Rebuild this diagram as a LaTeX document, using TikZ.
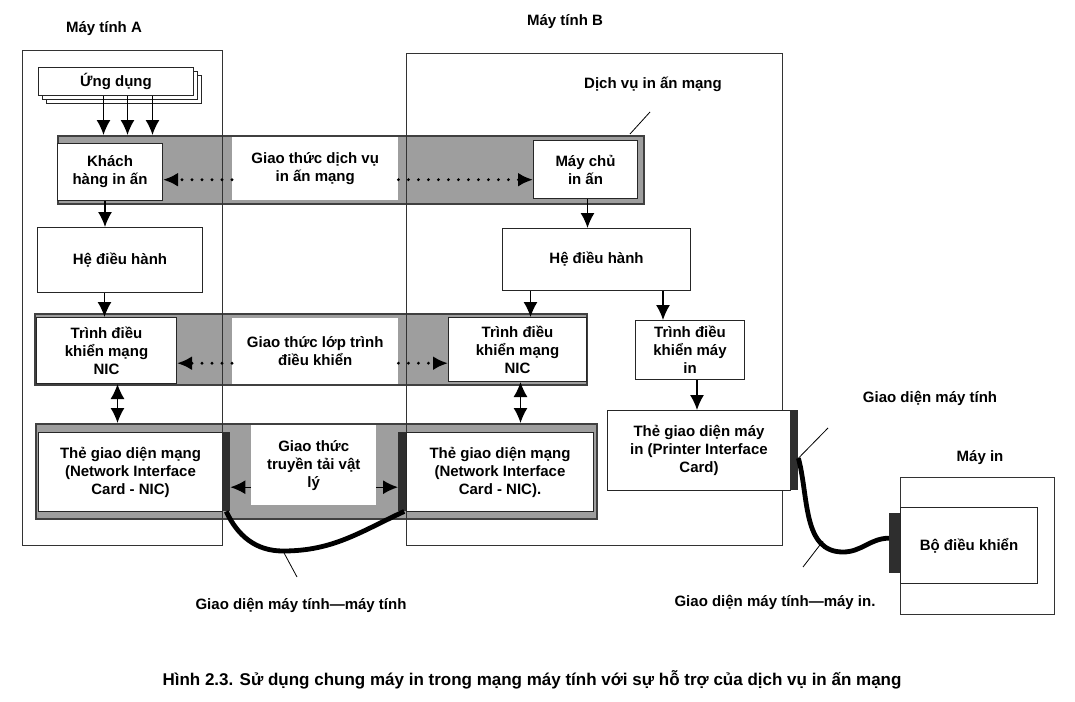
\documentclass[tikz,border=0pt]{standalone}
\usepackage{fontspec}
\setmainfont{Liberation Sans}
\usetikzlibrary{positioning,arrows.meta}
\tikzset{
	every node/.style = {font=\bfseries\fontsize{15}{18}\selectfont, inner sep=2},
	every text node part/.style={align=center},
	>={Latex[length=15pt,width=14pt]},
	blk/.style={draw=black!85, line width=1pt, fill=white, anchor=north west},
	band/.style={draw=black!75, line width=1.8pt, fill=black!38, anchor=north west},
	lbl/.style={fill=white, anchor=north west},
	bar/.style={fill=black!82, anchor=north west, inner sep=0},
	frame/.style={draw=black!80, line width=1pt, anchor=north west},
	arr/.style={->, line width=1.4pt},
	dbl/.style={<->, line width=1.4pt},
	dots/.style={->, line width=3.2pt, dash pattern=on 0pt off 10pt, line cap=round},
	cable/.style={line width=4.8pt},
	lead/.style={line width=0.8pt}
}

\begin{document}
\begin{tikzpicture}[x=1pt, y=-1pt]
	\useasboundingbox (0,0) rectangle (1075,701);
	% gray protocol bands
	\node(bandSvc)[band, minimum width=586, minimum height=68] at (57,135) {};
	\node(bandDrv)[band, minimum width=552, minimum height=71] at (34,313) {};
	\node(bandPhy)[band, minimum width=561, minimum height=95] at (35,423) {};
	% computers
	\node(compA)[frame, minimum width=200, minimum height=495] at (22,50) {};
	\node(compB)[frame, minimum width=376, minimum height=492] at (406,53) {};
	\node(labA) at (104,29) {Máy tính A};
	\node(labB) at (565,22) {Máy tính B};
	\node(labSvc) at (653,84) {Dịch vụ in ấn mạng};
	
	% computer A
	\node(app3)[blk, minimum width=155, minimum height=28] at (46,75) {};
	\node(app2)[blk, minimum width=155, minimum height=28] at (42,71) {};
	\node(app)[blk, minimum width=155, minimum height=28] at (38,67) {Ứng dụng};
	\node(client)[blk, minimum width=105, minimum height=57] at (57,143) {Khách\\hàng in ấn};
	\node(osA)[blk, minimum width=165, minimum height=65] at (37,227) {Hệ điều hành};
	\node(nicdrvA)[blk, minimum width=140, minimum height=66] at (36,317) {Trình điều\\khiển mạng\\NIC};
	\node(nicA)[blk, minimum width=184, minimum height=79] at (38,432) {Thẻ giao diện mạng\\(Network Interface\\Card - NIC)};
	\node(barA)[bar, minimum width=8, minimum height=79] at (222,432) {};
	
	% protocols
	\node(svcproto)[lbl, minimum width=166, minimum height=63] at (232,137) {Giao thức dịch vụ\\in ấn mạng};
	\node(drvproto)[lbl, minimum width=166, minimum height=66] at (232,318) {Giao thức lớp trình\\điều khiển};
	\node(phyproto)[lbl, minimum width=125, minimum height=80] at (251,425) {Giao thức\\truyền tải vật\\lý};
	
	% computer B
	\node(server)[blk, minimum width=104, minimum height=58] at (533,140) {Máy chủ\\in ấn};
	\node(osB)[blk, minimum width=188, minimum height=62] at (502,228) {Hệ điều hành};
	\node(nicdrvB)[blk, minimum width=138, minimum height=64] at (448,317) {Trình điều\\khiển mạng\\NIC};
	\node(prndrv)[blk, minimum width=109, minimum height=59] at (635,320) {Trình điều\\khiển máy\\in};
	\node(nicB)[blk, minimum width=187, minimum height=79] at (406,432) {Thẻ giao diện mạng\\(Network Interface\\Card - NIC).};
	\node(barB)[bar, minimum width=8, minimum height=79] at (398,432) {};
	\node(prncard)[blk, minimum width=183, minimum height=80] at (607,410) {Thẻ giao diện máy\\in (Printer Interface\\Card)};
	\node(barP)[bar, minimum width=8, minimum height=80] at (790,410) {};
	
	% printer
	\node(printer)[frame, minimum width=154, minimum height=137] at (900,477) {};
	\node(ctrl)[blk, minimum width=137, minimum height=76] at (900,507) {Bộ điều khiển};
	\node(barC)[bar, minimum width=11, minimum height=60] at (889,513) {};
	\node(labPrn) at (980,458) {Máy in};
	\node(labIf) at (930,398) {Giao diện máy tính};
	\node(labAB) at (301,605) {Giao diện máy tính—máy tính};
	\node(labAP) at (775,602) {Giao diện máy tính—máy in.};
	\node(caption)[font=\bfseries\fontsize{17}{20}\selectfont] at (532,680) {Hình 2.3. Sử dụng chung máy in trong mạng máy tính với sự hỗ trợ của dịch vụ in ấn mạng};
	
	% arrows
	\foreach \dx in {-12.5,11.5,36.5}
		\draw[arr] ([xshift=\dx pt]app.south) -- ([xshift=\dx pt]app.south |- bandSvc.north);
	\draw[arr] ([xshift=-5pt]client.south) -- ([xshift=-5pt]client.south |- osA.north);
	\draw[arr] ([xshift=-2pt]nicdrvA.north |- osA.south) -- ([xshift=-2pt]nicdrvA.north);
	\draw[dbl] ([xshift=11pt]nicdrvA.south) -- ([xshift=11pt]nicdrvA.south |- bandPhy.north);
	\draw[arr] ([xshift=2pt]server.south) -- ([xshift=2pt]server.south |- osB.north);
	\draw[arr] ([xshift=13pt]nicdrvB.north |- osB.south) -- ([xshift=13pt]nicdrvB.north);
	\draw[arr] ([xshift=-27pt]prndrv.north |- osB.south) -- ([xshift=-27pt]prndrv.north);
	\draw[dbl] ([xshift=3pt]nicdrvB.south) -- ([xshift=3pt]nicdrvB.south |- bandPhy.north);
	\draw[arr] ([xshift=7pt]prndrv.south) -- ([xshift=7pt]prndrv.south |- prncard.north);
	
	\draw[dots] ([yshift=-11pt]svcproto.west) -- ([yshift=-11pt]svcproto.west -| client.east);
	\draw[dots] ([yshift=-11pt]svcproto.east) -- ([yshift=-11pt]svcproto.east -| server.west);
	\draw[dots] ([yshift=-12pt]drvproto.west) -- ([yshift=-12pt]drvproto.west -| nicdrvA.east);
	\draw[dots] ([yshift=-12pt]drvproto.east) -- ([yshift=-12pt]drvproto.east -| nicdrvB.west);
	\draw[arr] ([yshift=-22pt]phyproto.west) -- ([yshift=-22pt]phyproto.west -| barA.east);
	\draw[arr] ([yshift=-22pt]phyproto.east) -- ([yshift=-22pt]phyproto.east -| barB.west);
	
	% cables and leaders
	\coordinate(sagAB) at (283,551);
	\coordinate(sagP) at (843,552);
	\draw[cable] (barA.south) to[out=-65,in=180] (sagAB) to[out=0,in=205] ([xshift=2pt]barB.south);
	\draw[cable] ([yshift=-8pt]barP.east) to[out=-75,in=180] (sagP) to[out=0,in=180] ([yshift=5pt]barC.west);
	\draw[lead] (sagAB) -- (297,577);
	\draw[lead] ([yshift=-8pt]barP.east) -- (828,428);
	\draw[lead] (823,541) -- (803,567);
	\draw[lead] (630,134) -- (650,112);
\end{tikzpicture}
\end{document}
